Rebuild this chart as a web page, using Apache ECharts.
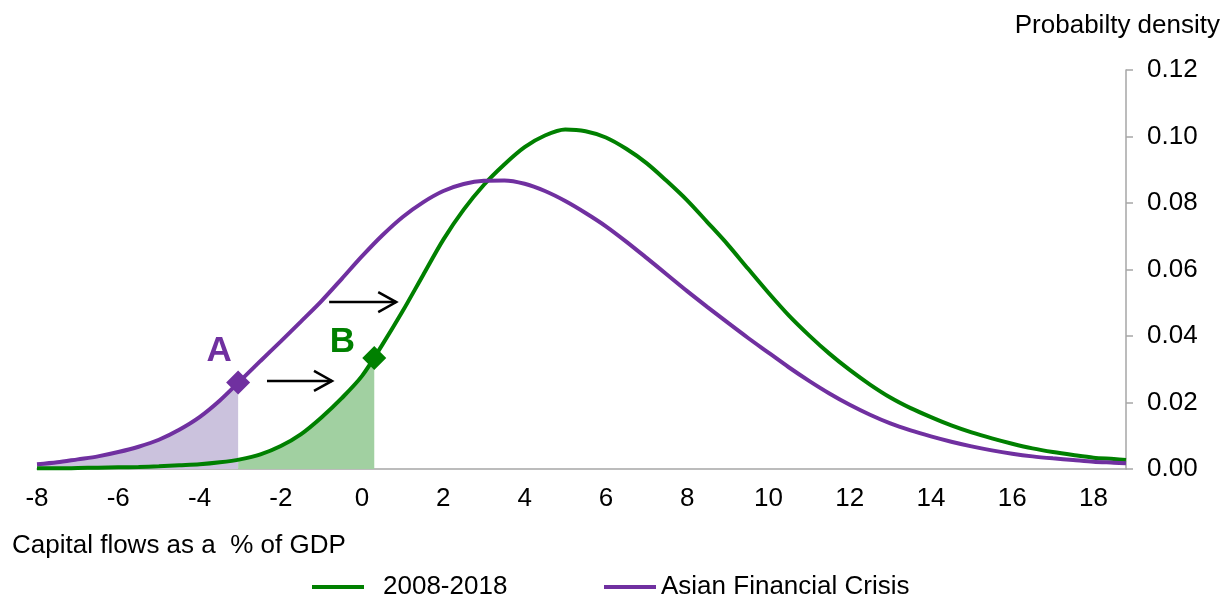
<!DOCTYPE html>
<html>
<head>
<meta charset="utf-8">
<script src="https://cdn.jsdelivr.net/npm/echarts@6/dist/echarts.min.js"></script>
<style>
html,body{margin:0;padding:0;background:#fff;}
#chart{width:1224px;height:597px;}
</style>
</head>
<body>
<div id="chart"></div>
<script>
// ---- data ----
const xValues = [-8,-7.5,-7,-6.5,-6,-5.5,-5,-4.5,-4,-3.5,-3,-2.5,-2,-1.5,-1,-0.5,0,0.5,1,1.5,2,2.5,3,3.5,4,4.5,5,5.5,6,6.5,7,7.5,8,8.5,9,9.5,10,10.5,11,11.5,12,12.5,13,13.5,14,14.5,15,15.5,16,16.5,17,17.5,18,18.5,18.8];
const recentDensity = [0.0002,0.0002,0.0003,0.0004,0.0005,0.0006,0.0008,0.0011,0.0014,0.0020,0.0029,0.0044,0.0069,0.0105,0.0155,0.0213,0.0280,0.0374,0.0475,0.0583,0.0690,0.0780,0.0855,0.0916,0.0968,0.1003,0.1021,0.1016,0.0997,0.0963,0.0920,0.0866,0.0808,0.0742,0.0675,0.0602,0.0530,0.0462,0.0402,0.0347,0.0298,0.0254,0.0215,0.0183,0.0156,0.0131,0.0110,0.0092,0.0076,0.0062,0.0051,0.0042,0.0034,0.0030,0.0027];
const afcDensity = [0.0014,0.0020,0.0029,0.0038,0.0051,0.0067,0.0088,0.0118,0.0156,0.0206,0.0265,0.0325,0.0384,0.0444,0.0505,0.0572,0.0640,0.0703,0.0758,0.0802,0.0836,0.0857,0.0867,0.0868,0.0858,0.0836,0.0806,0.0770,0.0730,0.0684,0.0635,0.0585,0.0535,0.0487,0.0440,0.0394,0.0350,0.0306,0.0265,0.0227,0.0193,0.0163,0.0137,0.0116,0.0098,0.0082,0.0068,0.0056,0.0046,0.0038,0.0032,0.0027,0.0022,0.0019,0.0017];
const seriesNames = ['2008-2018', 'Asian Financial Crisis'];
const pointA = [-3.05, 0.0260];
const pointB = [0.30, 0.0334];
const recentAtA = [-3.05, 0.0028];
const arrowSegments = [[-2.34, 0.0265, -0.74], [-0.81, 0.0502, 0.84]];
const xTicks = [-8,-6,-4,-2,0,2,4,6,8,10,12,14,16,18];
const yTicks = [0, 0.02, 0.04, 0.06, 0.08, 0.10, 0.12];
const xAxisTitle = 'Capital flows as a  % of GDP';
const yAxisTitle = 'Probabilty density';

// ---- build ----
const GREEN = '#008000', PURPLE = '#7030a0';
const FONT = '"Liberation Sans", Arial, sans-serif';
const SM = 0.3;
const recentPts = xValues.map((x, i) => [x, recentDensity[i]]);
const afcPts = xValues.map((x, i) => [x, afcDensity[i]]);
const afcShade = afcPts.filter(p => p[0] < pointA[0] - 0.2).concat([pointA]);
const recentShade = [recentAtA].concat(recentPts.filter(p => p[0] > recentAtA[0] + 0.2 && p[0] < pointB[0] - 0.1)).concat([pointB]);

const chart = echarts.init(document.getElementById('chart'), null, {renderer: 'canvas'});
chart.setOption({
  animation: false,
  backgroundColor: '#ffffff',
  textStyle: {fontFamily: FONT},
  grid: {left: 37, right: 98, top: 70, bottom: 128, containLabel: false},
  legend: [
    {data: [seriesNames[0]], left: 307, top: 569, icon: 'rect', itemWidth: 52, itemHeight: 4,
     textStyle: {fontSize: 26, color: '#000', fontFamily: FONT, padding: [0, 0, 0, 14]}},
    {data: [seriesNames[1]], left: 599, top: 569, icon: 'rect', itemWidth: 52, itemHeight: 4,
     textStyle: {fontSize: 26, color: '#000', fontFamily: FONT}}
  ],
  xAxis: {
    type: 'value', min: xTicks[0], max: xValues[xValues.length - 1], interval: 2,
    axisLine: {show: true, onZero: false, lineStyle: {color: '#a6a6a6', width: 1.5}},
    axisTick: {show: false},
    splitLine: {show: false},
    axisLabel: {fontSize: 26, color: '#000', margin: 17, fontFamily: FONT,
      formatter: v => xTicks.indexOf(Math.round(v * 100) / 100) >= 0 ? String(v) : ''}
  },
  yAxis: {
    type: 'value', position: 'right', min: yTicks[0], max: yTicks[yTicks.length - 1], interval: 0.02,
    axisLine: {show: true, onZero: false, lineStyle: {color: '#a6a6a6', width: 1.5}},
    axisTick: {show: true, inside: false, length: 7, lineStyle: {color: '#a6a6a6', width: 1.5}},
    splitLine: {show: false},
    axisLabel: {fontSize: 26, color: '#000', margin: 21, fontFamily: FONT, formatter: v => v.toFixed(2)}
  },
  series: [
    {type: 'line', name: 'afcShade', data: afcShade, smooth: SM, symbol: 'none', z: 1,
     lineStyle: {width: 0}, areaStyle: {color: '#cbc2dd', opacity: 1}, silent: true},
    {type: 'line', name: 'recentShade', data: recentShade, smooth: SM, symbol: 'none', z: 1,
     lineStyle: {width: 0}, areaStyle: {color: '#a1d0a1', opacity: 1}, silent: true},
    {type: 'line', name: seriesNames[0], data: recentPts, smooth: SM, symbol: 'none', z: 3,
     color: GREEN, lineStyle: {color: GREEN, width: 4}},
    {type: 'line', name: seriesNames[1], data: afcPts, smooth: SM, symbol: 'none', z: 3,
     color: PURPLE, lineStyle: {color: PURPLE, width: 4}},
    {type: 'scatter', name: 'markers', z: 5, symbol: 'diamond', symbolSize: 24,
     itemStyle: {opacity: 1},
     data: [
       {value: pointA, itemStyle: {color: PURPLE, opacity: 1},
        label: {show: true, formatter: 'A', position: 'inside', offset: [-19, -31], color: PURPLE, fontSize: 35, fontWeight: 'bold', fontFamily: FONT}},
       {value: pointB, itemStyle: {color: GREEN, opacity: 1},
        label: {show: true, formatter: 'B', position: 'inside', offset: [-32, -16], color: GREEN, fontSize: 35, fontWeight: 'bold', fontFamily: FONT}}
     ]},
    {type: 'custom', name: 'arrows', z: 6, data: arrowSegments,
     renderItem: function (params, api) {
       const p1 = api.coord([api.value(0), api.value(1)]);
       const p2 = api.coord([api.value(2), api.value(1)]);
       const st = {stroke: '#000', lineWidth: 2.5, fill: null};
       return {type: 'group', children: [
         {type: 'line', shape: {x1: p1[0], y1: p1[1], x2: p2[0], y2: p2[1]}, style: st},
         {type: 'polyline', shape: {points: [[p2[0] - 18, p2[1] - 10], [p2[0], p2[1]], [p2[0] - 18, p2[1] + 10]]}, style: st}
       ]};
     }}
  ],
  graphic: [
    {type: 'text', left: 12, top: 533, style: {text: xAxisTitle, fontSize: 26, fill: '#000', fontFamily: FONT}},
    {type: 'text', right: 4, top: 13, style: {text: yAxisTitle, fontSize: 26, fill: '#000', fontFamily: FONT}}
  ]
});
</script>
</body>
</html>
